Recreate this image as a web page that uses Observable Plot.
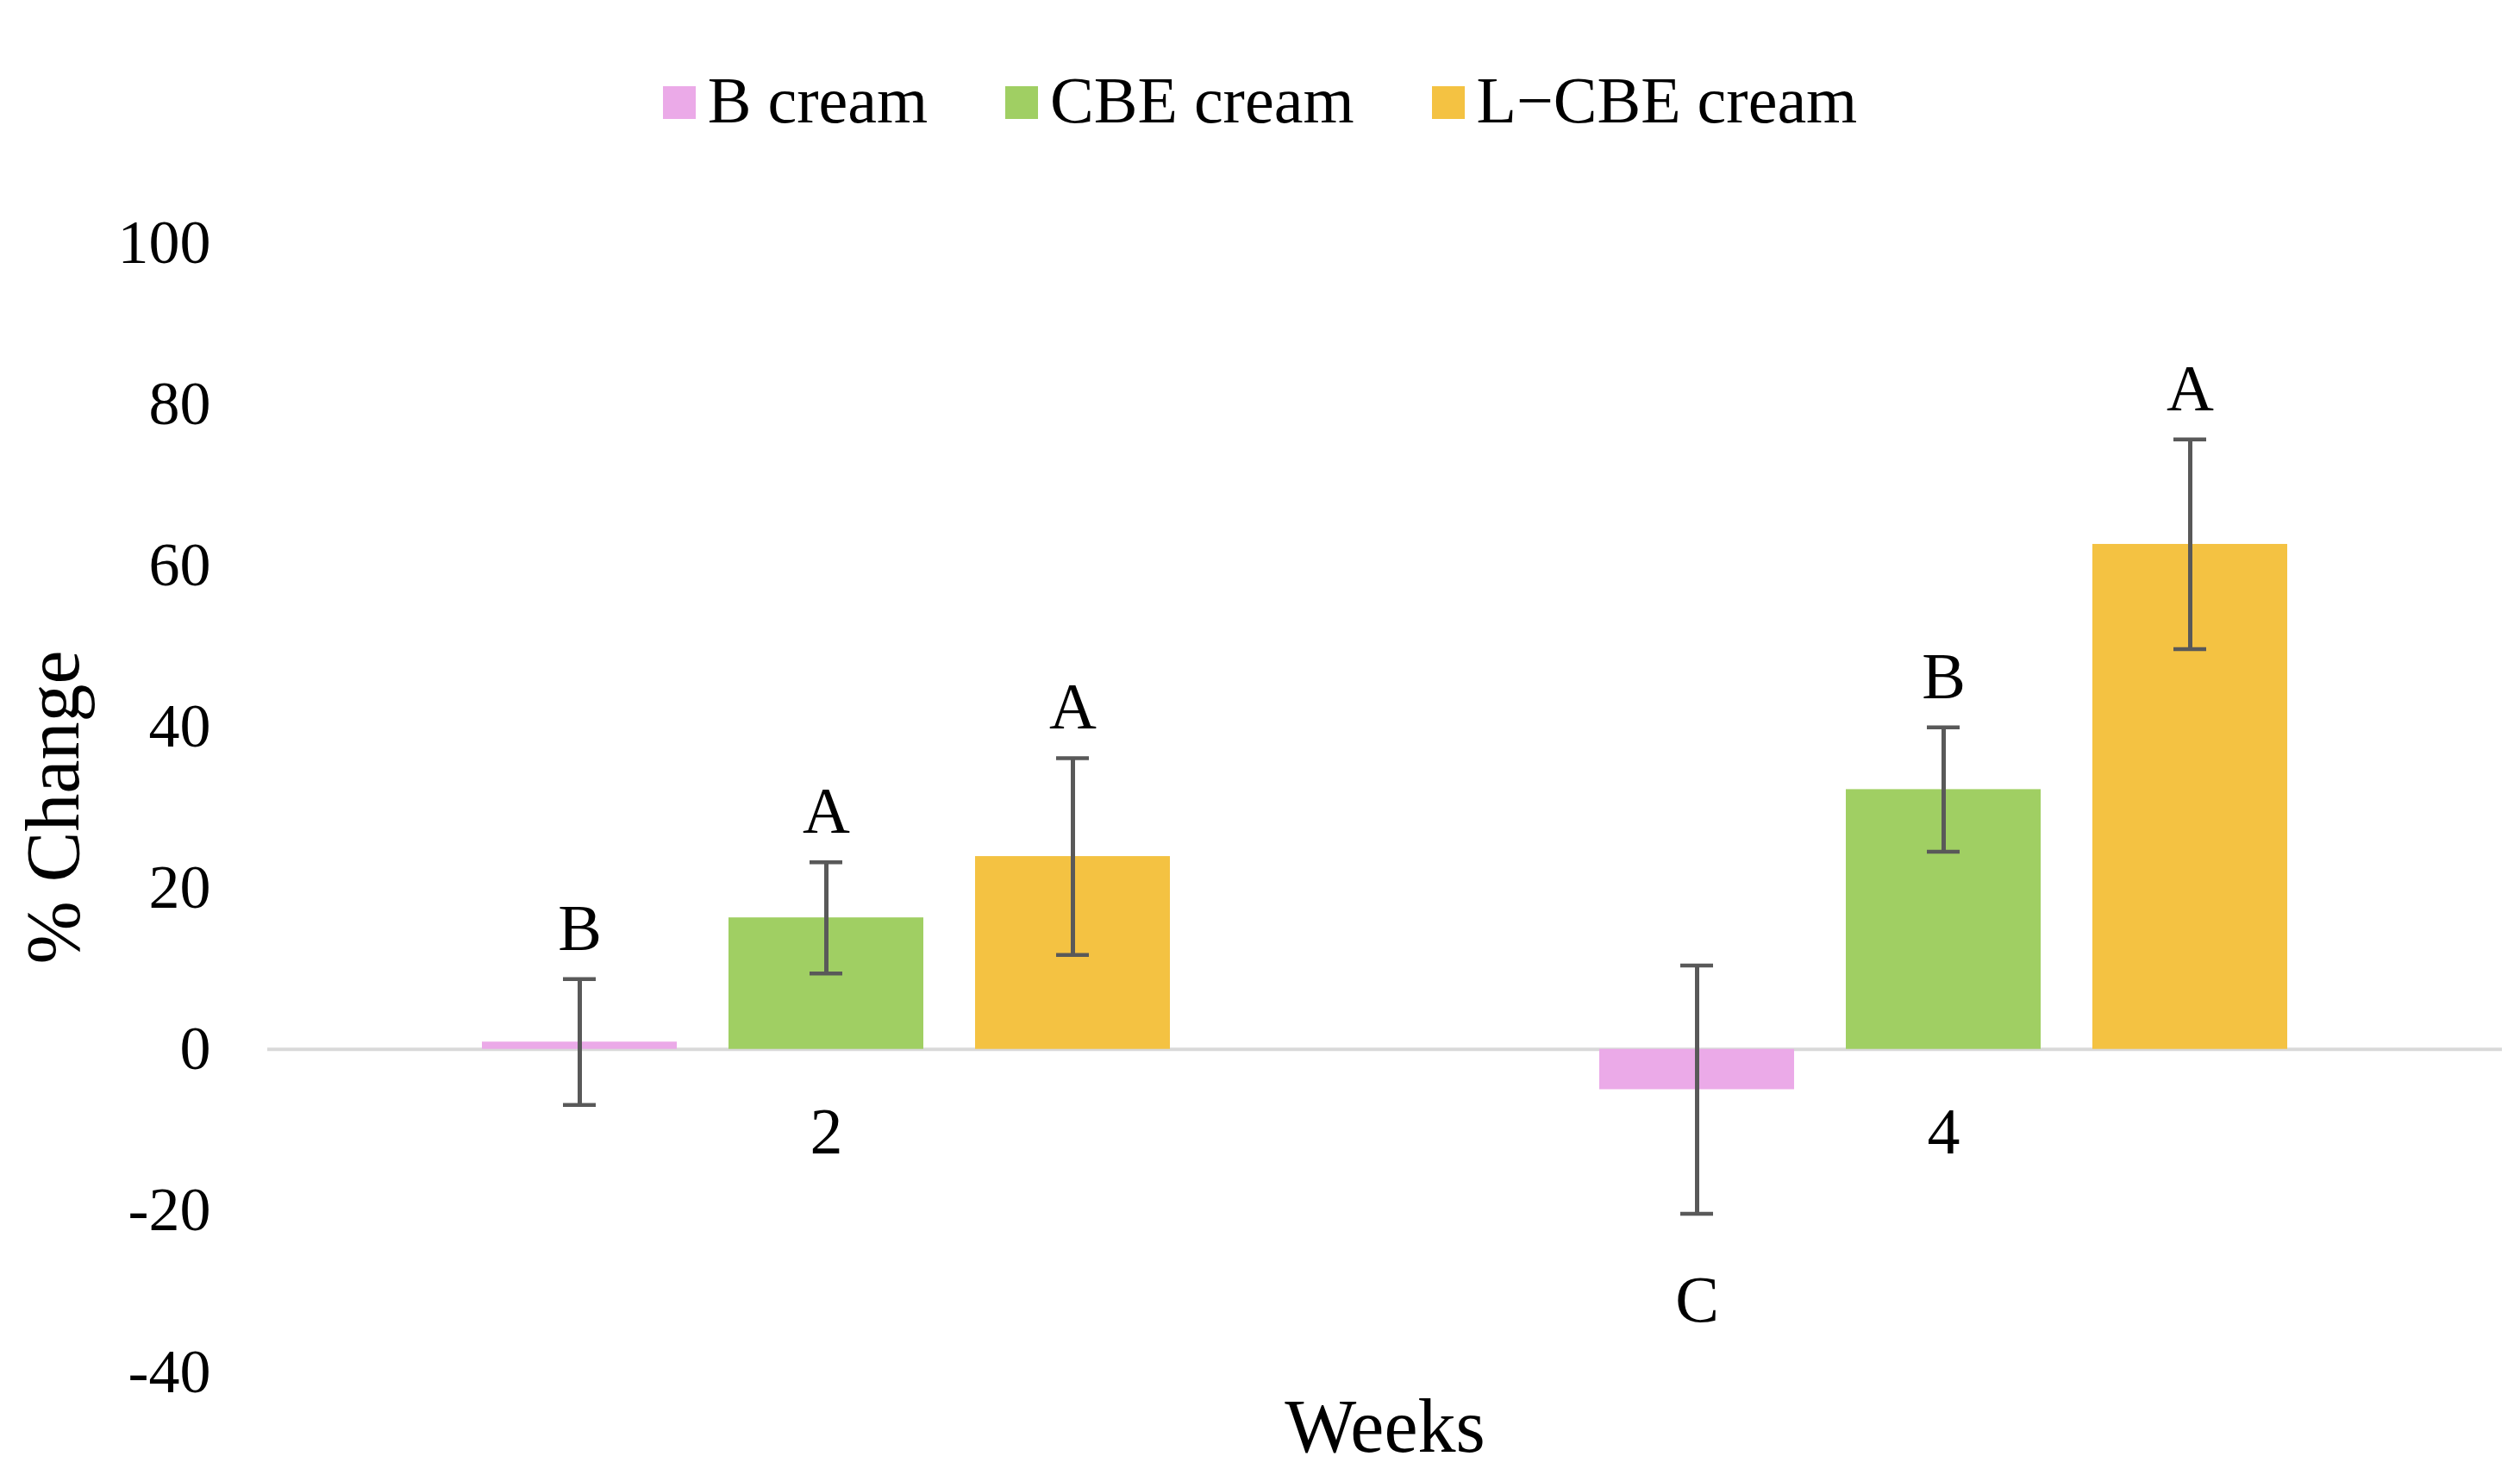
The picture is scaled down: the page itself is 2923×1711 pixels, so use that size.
<!DOCTYPE html>
<html>
<head>
<meta charset="utf-8">
<script src="https://cdn.jsdelivr.net/npm/d3@7"></script>
<script src="https://cdn.jsdelivr.net/npm/@observablehq/plot@0.6"></script>
<style>
  html, body { margin: 0; padding: 0; background: #fff; overflow: hidden; }
  #legend {
    height: 170px; box-sizing: border-box; padding-top: 78px;
    display: flex; justify-content: center; align-items: flex-start;
    font-family: "Liberation Serif", "Times New Roman", serif; font-size: 76px; line-height: 76px; color: #000;
  }
  .item { display: flex; align-items: center; margin: 0 45px; }
  .sw { width: 38px; height: 38px; margin-right: 14px; position: relative; top: 3px; }
</style>
</head>
<body>
<div id="legend"></div>
<div id="chart"></div>
<script>
const weeks = [2, 4];
const creams = ["B cream", "CBE cream", "L\u2212CBE cream"];
const colors = ["#EBAAE8", "#A0CF63", "#F4C242"];
const meansWeek2 = [0.9, 16.3, 23.9];
const errsWeek2 = [7.8, 6.9, 12.2];
const lettersWeek2 = ["B", "A", "A"];
const meansWeek4 = [-5.0, 32.2, 62.6];
const errsWeek4 = [15.4, 7.7, 13.0];
const lettersWeek4 = ["C", "B", "A"];
const yTicks = [-40, -20, 0, 20, 40, 60, 80, 100];

const rows = [];
creams.forEach((c, i) => {
  rows.push({week: 2, cream: c, mean: meansWeek2[i], err: errsWeek2[i], letter: lettersWeek2[i]});
  rows.push({week: 4, cream: c, mean: meansWeek4[i], err: errsWeek4[i], letter: lettersWeek4[i]});
});

// legend
const legend = document.getElementById("legend");
creams.forEach((c, i) => {
  const item = document.createElement("div");
  item.className = "item";
  const sw = document.createElement("div");
  sw.className = "sw";
  sw.style.background = colors[i];
  const t = document.createElement("span");
  t.textContent = c;
  item.appendChild(sw);
  item.appendChild(t);
  legend.appendChild(item);
});

const font = '"Liberation Serif", "Times New Roman", serif';
const lo = d => d.mean - d.err;
const hi = d => d.mean + d.err;

const plot = Plot.plot({
  width: 2923,
  height: 1541,
  marginTop: 111,
  marginBottom: 120,
  marginLeft: 310,
  marginRight: 21,
  style: {fontFamily: font, background: "white", color: "black", overflow: "visible"},
  fx: {domain: weeks, padding: 0, axis: null, label: null},
  x: {domain: creams, paddingInner: 0.211, paddingOuter: 0.87, axis: null},
  y: {domain: [-40, 100], axis: null},
  color: {domain: creams, range: colors},
  marks: [
    Plot.ruleY([0], {stroke: "#D9D9D9", strokeWidth: 4}),
    Plot.barY(rows, {fx: "week", x: "cream", y: "mean", fill: "cream"}),
    Plot.ruleX(rows, {fx: "week", x: "cream", y1: lo, y2: hi, stroke: "#595959", strokeWidth: 5}),
    Plot.tickY(rows, {fx: "week", x: "cream", y: lo, stroke: "#595959", strokeWidth: 4.5, insetLeft: 94, insetRight: 94}),
    Plot.tickY(rows, {fx: "week", x: "cream", y: hi, stroke: "#595959", strokeWidth: 4.5, insetLeft: 94, insetRight: 94}),
    Plot.text(rows.filter(d => d.mean >= 0), {fx: "week", x: "cream", y: hi, text: "letter", lineAnchor: "bottom", dy: -34, fontSize: 76, fill: "black"}),
    Plot.text(rows.filter(d => d.mean < 0), {fx: "week", x: "cream", y: lo, text: "letter", lineAnchor: "top", dy: 71, fontSize: 76, fill: "black"}),
    Plot.text(weeks, {fx: d => d, y: () => 0, text: d => String(d), lineAnchor: "top", dy: 67, fontSize: 76, fill: "black"}),
    Plot.axisY({ticks: yTicks, tickSize: 0, tickPadding: 66, fontSize: 72, tickFormat: d => `${d}`, label: null}),
    Plot.axisY({ticks: [], tickSize: 0, label: "% Change", labelArrow: "none", labelAnchor: "center", labelOffset: 282, fontSize: 88}),
    Plot.axisFx({ticks: [], anchor: "bottom", tickSize: 0, label: "Weeks", labelArrow: "none", labelAnchor: "center", labelOffset: 92, fontSize: 88})
  ]
});
document.getElementById("chart").appendChild(plot);
</script>
</body>
</html>
